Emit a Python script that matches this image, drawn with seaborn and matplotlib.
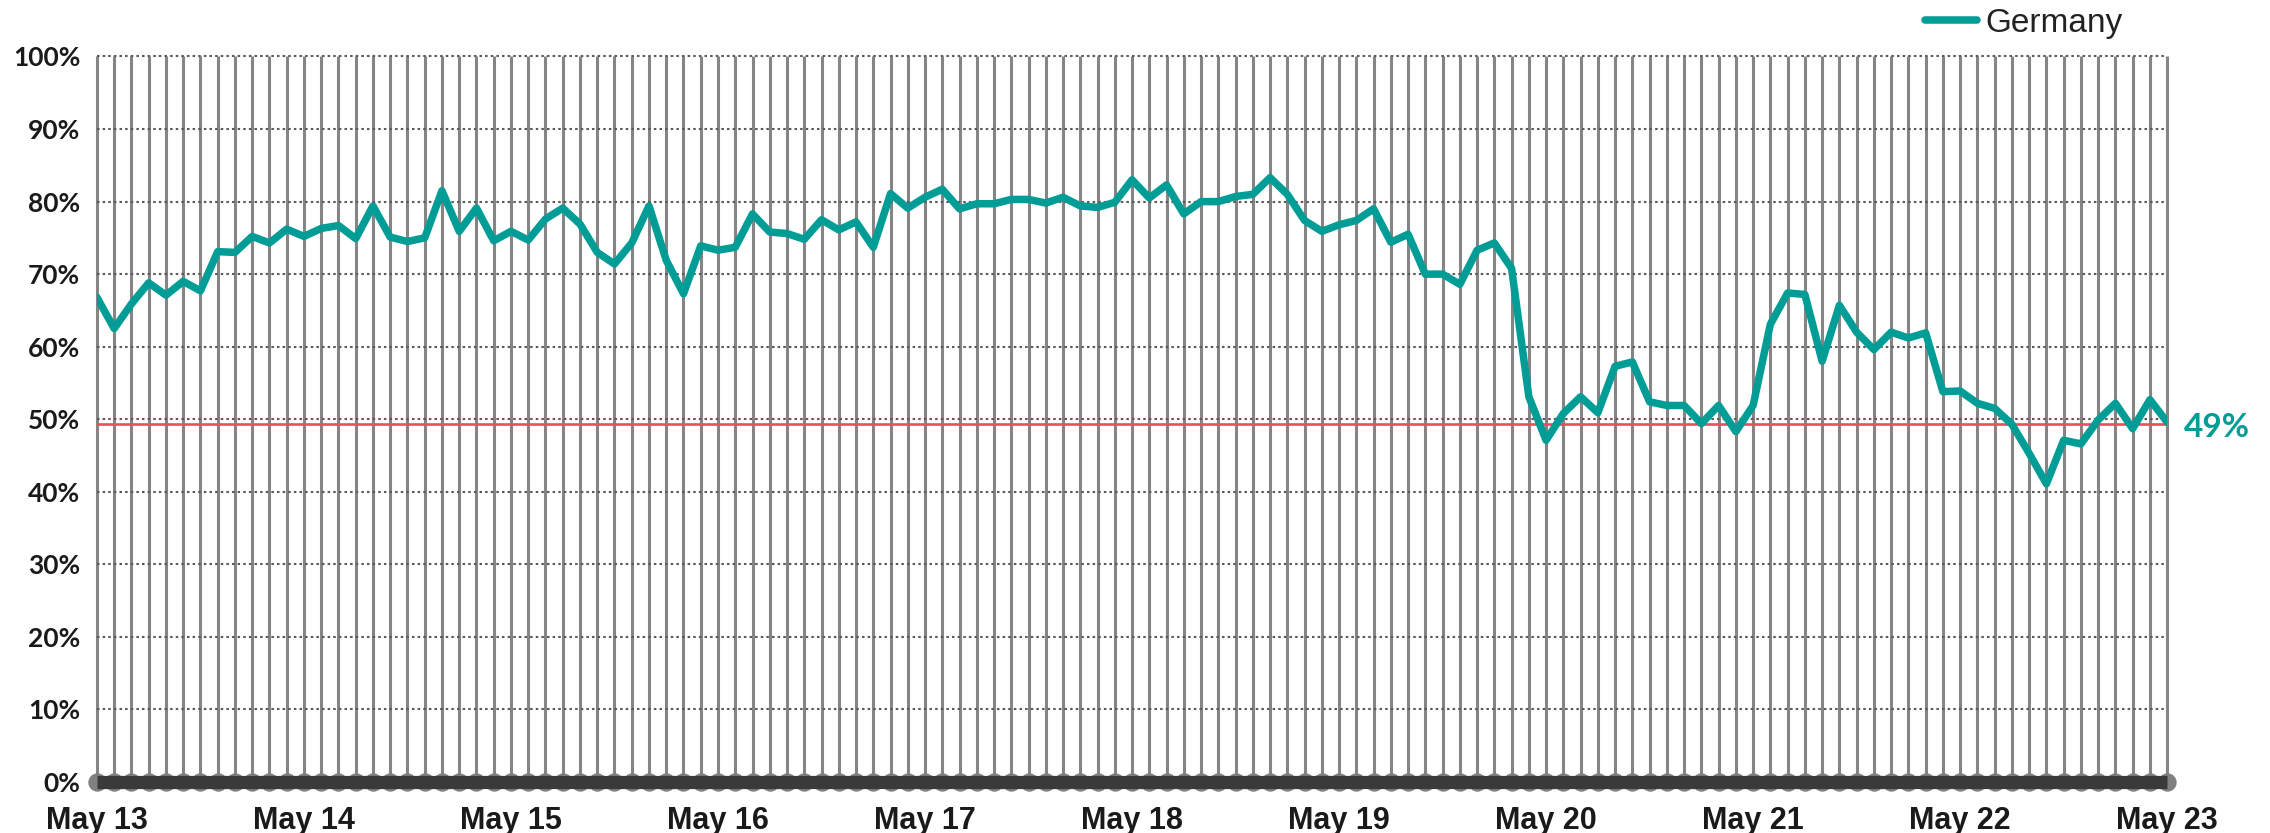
import numpy as np
import pandas as pd
import matplotlib
matplotlib.use("Agg")
import matplotlib.pyplot as plt
import seaborn as sns

# --- data: monthly share, May 2013 .. May 2023 ---
country = "Germany"
year_labels = ["May 13", "May 14", "May 15", "May 16", "May 17", "May 18",
               "May 19", "May 20", "May 21", "May 22", "May 23"]
values = [
    66.8, 62.5, 65.9, 68.8, 67.1, 69.0, 67.7, 73.1, 73.0, 75.2, 74.3, 76.2,
    75.2, 76.3, 76.7, 74.9, 79.4, 75.1, 74.5, 75.0, 81.5, 75.9, 79.1, 74.6,
    75.9, 74.7, 77.6, 79.1, 76.9, 73.0, 71.4, 74.3, 79.4, 71.9, 67.3, 73.9,
    73.3, 73.7, 78.3, 75.8, 75.6, 74.8, 77.5, 76.1, 77.2, 73.7, 81.1, 79.1,
    80.6, 81.7, 79.0, 79.7, 79.7, 80.3, 80.3, 79.8, 80.6, 79.4, 79.2, 79.9,
    83.0, 80.5, 82.3, 78.3, 80.0, 80.0, 80.7, 81.0, 83.3, 81.0, 77.4, 75.9,
    76.8, 77.4, 79.0, 74.4, 75.5, 70.0, 70.0, 68.6, 73.3, 74.3, 70.8, 53.1,
    47.1, 50.8, 53.1, 50.9, 57.3, 57.9, 52.4, 51.9, 51.9, 49.4, 51.9, 48.3,
    51.9, 63.1, 67.4, 67.2, 58.0, 65.7, 62.0, 59.6, 62.0, 61.2, 61.9, 53.8,
    53.9, 52.2, 51.5, 49.3, 45.3, 41.1, 47.1, 46.6, 49.9, 52.2, 48.7, 52.7,
    49.6,
]
reference_level = 49.3
last_label = "49%"

months = np.arange(len(values))
df = pd.DataFrame({"month": months, "share": values})

teal = "#009C96"
red = "#F04B5C"

sns.set_theme(style="white")
plt.rcParams["font.family"] = ["Liberation Sans", "DejaVu Sans"]

fig = plt.figure(figsize=(22.7, 8.33), dpi=100)
ax = fig.add_axes([0.0427, 0.0612, 0.912, 0.8710])

# vertical month lines
ax.vlines(months, 0, 100, color="#858585", lw=2.2, zorder=1, clip_on=False)
# dotted horizontal grid
for v in range(10, 101, 10):
    ax.axhline(v, color="#5a5a5a", lw=1.5, ls=(0, (1.2, 1.5)), zorder=1.5, clip_on=False)

# reference level
ax.axhline(reference_level, color=red, lw=1.9, zorder=2)

# series
sns.lineplot(data=df, x="month", y="share", ax=ax, color=teal, linewidth=5.4,
             label=country, zorder=4)

# baseline with month dots
ax.scatter(months, np.zeros(len(months)), s=175, color="#808080", zorder=5,
           clip_on=False, linewidths=0)
ax.axhline(0, color="#3a3a3a", lw=9.5, zorder=6, solid_capstyle="butt", clip_on=False)

ax.annotate(last_label, xy=(months[-1], reference_level), xytext=(12, -2),
            textcoords="offset points", ha="left", va="center", color=teal,
            fontsize=24, fontweight="bold", family=["Lato", "DejaVu Sans"],
            annotation_clip=False)

ax.set_xlim(0, months[-1])
ax.set_ylim(0, 100)
ax.set_yticks(range(0, 101, 10))
ax.set_yticklabels([f"{v}%" for v in range(0, 101, 10)], fontsize=19,
                   fontweight="bold", family=["Lato", "DejaVu Sans"], color="#1a1a1a")
ax.set_xticks(months[::12])
ax.set_xticklabels(year_labels, fontsize=22, fontweight="bold",
                   family=["Liberation Sans Narrow", "Liberation Sans"], color="#1a1a1a")
ax.tick_params(axis="both", length=0)
ax.tick_params(axis="x", pad=17)
ax.tick_params(axis="y", pad=12)
ax.set_xlabel("")
ax.set_ylabel("")
for s in ax.spines.values():
    s.set_visible(False)

ax.legend_.remove()
handles, labels = ax.get_legend_handles_labels()
fig.legend(handles, labels, loc="center left", bbox_to_anchor=(0.848, 0.972),
           frameon=False, fontsize=24, handlelength=1.55, handletextpad=0.25,
           borderpad=0, borderaxespad=0, labelcolor="#222222")

fig.savefig("out.png", dpi=100)
